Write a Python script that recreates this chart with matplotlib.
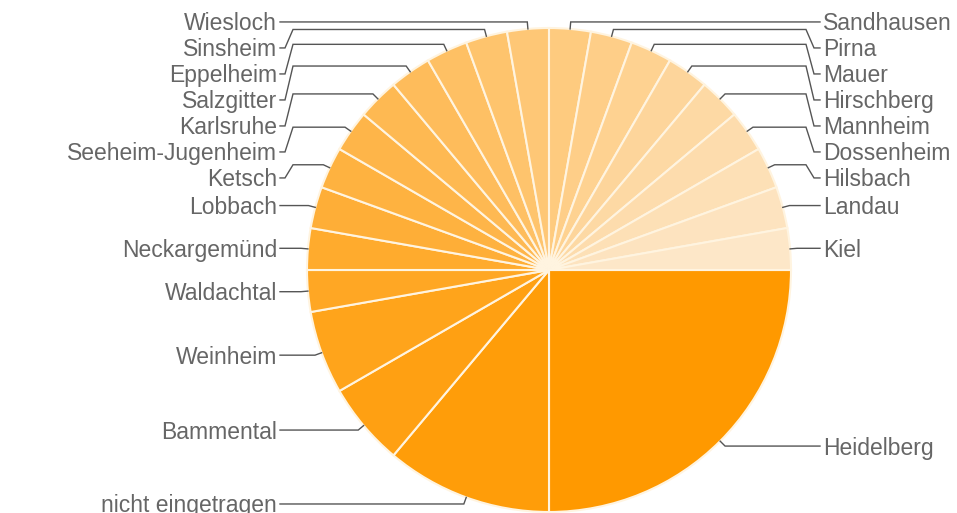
import matplotlib
matplotlib.use('Agg')
import matplotlib.pyplot as plt
import matplotlib.colors as mcolors
import numpy as np

plt.rcParams['font.family'] = ['Liberation Sans', 'DejaVu Sans']

# Daten (im Uhrzeigersinn ab 3 Uhr)
orte = ['Heidelberg', 'nicht eingetragen', 'Bammental', 'Weinheim', 'Waldachtal',
        'Neckargemünd', 'Lobbach', 'Ketsch', 'Seeheim-Jugenheim', 'Karlsruhe',
        'Salzgitter', 'Eppelheim', 'Sinsheim', 'Wiesloch', 'Sandhausen', 'Pirna',
        'Mauer', 'Hirschberg', 'Mannheim', 'Dossenheim', 'Hilsbach', 'Landau', 'Kiel']
anzahl = [9, 4, 2, 2, 1,
          1, 1, 1, 1, 1,
          1, 1, 1, 1, 1, 1,
          1, 1, 1, 1, 1, 1, 1]

# Farbverlauf von kräftigem Orange zu hellem Creme
c0 = np.array(mcolors.to_rgb('#FF9900'))
c1 = np.array(mcolors.to_rgb('#FDE7C8'))
n = len(orte)
farben = [tuple(c0 + (c1 - c0) * i / (n - 1)) for i in range(n)]

W, H = 957, 513
fig = plt.figure(figsize=(W / 100, H / 100), dpi=100)
ax = fig.add_axes([0, 0, 1, 1])

cx, cy, r = 549, 270, 242
wedges, _ = ax.pie(anzahl, colors=farben, startangle=0, counterclock=True,
                   center=(cx, cy), radius=r,
                   wedgeprops=dict(edgecolor='#FFF4E0', linewidth=1.5))
ax.set_xlim(0, W)
ax.set_ylim(H, 0)   # y nach unten -> Torte läuft im Uhrzeigersinn
ax.set_aspect('auto')
ax.axis('off')

# Beschriftungen mit Führungslinien
links, rechts = [], []
for w, name in zip(wedges, orte):
    mid = np.deg2rad((w.theta1 + w.theta2) / 2)
    p = (cx + r * np.cos(mid), cy + r * np.sin(mid))
    e = (cx + (r + 7) * np.cos(mid), cy + (r + 7) * np.sin(mid))
    (links if np.cos(mid) < 0 else rechts).append((e[1], name, p, e))

gap = 26
for seite, eintraege in (('l', links), ('r', rechts)):
    eintraege.sort(key=lambda t: t[0])
    prev = -1e9
    for ey, name, p, e in eintraege:
        ly = max(ey, prev + gap)
        prev = ly
        if seite == 'l':
            xs = [p[0], e[0], 293, 285, 280]
            tx, ha = 277, 'right'
        else:
            xs = [p[0], e[0], 806, 814, 820]
            tx, ha = 823, 'left'
        ys = [p[1], e[1], e[1], ly, ly]
        ax.plot(xs, ys, color='#555555', lw=1.0, solid_joinstyle='miter')
        ax.text(tx, ly + 2, name, ha=ha, va='center', fontsize=16.5, color='#666666')

fig.savefig('out.png', dpi=100, facecolor='white')
